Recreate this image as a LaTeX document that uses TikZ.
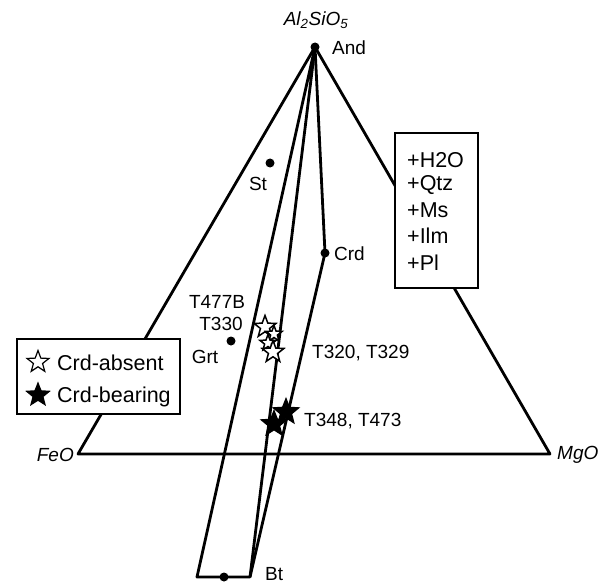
\documentclass[tikz,border=0pt]{standalone}
\usepackage{fontspec}
\setmainfont{Liberation Sans}
\usetikzlibrary{shapes.geometric}
\begin{document}
\begin{tikzpicture}[x=1pt,y=-1pt,
  edge/.style={line width=2.8pt,line join=round},
  dot/.style={circle,fill=black,inner sep=0pt,minimum size=9pt},
  lbl/.style={font=\fontsize{19}{21}\selectfont,inner sep=0pt},
  blbl/.style={font=\fontsize{21.5}{24}\selectfont,inner sep=0pt,anchor=west},
  ilbl/.style={font=\fontsize{19}{21}\selectfont\itshape,inner sep=0pt},
  ostar/.style={star,star points=5,star point ratio=2.4,draw=black,fill=white,line width=1.5pt,minimum size=23pt,inner sep=0pt},
  fstar/.style={star,star points=5,star point ratio=2.3,draw=black,fill=black,line width=1.5pt,minimum size=26pt,inner sep=0pt},
  box/.style={draw=black,fill=white,line width=2.4pt}]
\useasboundingbox (0,0) rectangle (613,583);
% corners
\coordinate (And) at (315,47);
\coordinate (FeO) at (78,454);
\coordinate (MgO) at (550,454);
\coordinate (BtL) at (197,577);
\coordinate (BtR) at (250,577);
% triangle
\draw[edge] (FeO) -- (MgO) -- (And) -- cycle;
% wedge
\node[dot] (Crd) at (325,253) {};
\draw[edge] (And) -- (BtL) -- (BtR) -- (And);
\draw[edge] (And) -- (Crd.center) -- (BtR);
% dots
\node[dot] (AndDot) at (And) {};
\node[dot] (St) at (270,163) {};
\node[dot] (Grt) at (231,341) {};
\node[dot] (Bt) at (224,577) {};
% labels
\node[ilbl] (AlSi) at (316,20) {Al\textsubscript{2}SiO\textsubscript{5}};
\node[lbl,anchor=west] (AndL) at (332,48) {And};
\node[lbl] (StL) at (258,184) {St};
\node[lbl,anchor=west] (CrdL) at (334,254) {Crd};
\node[lbl] (GrtL) at (205,357) {Grt};
\node[lbl] (T477) at (217,302) {T477B};
\node[lbl] (T330) at (221,324) {T330};
\node[lbl,anchor=west] (T320) at (312,353) {T320, T329};
\node[lbl,anchor=west] (T348) at (304,421) {T348, T473};
\node[lbl,anchor=west] (BtLbl) at (265,574) {Bt};
\node[ilbl,anchor=east] (FeOL) at (74,455) {FeO};
\node[ilbl,anchor=west] (MgOL) at (557,455) {MgO};
% data stars
\node[ostar] (s1) at (265,327) {};
\node[ostar,minimum size=17pt] (s2) at (274,334) {};
\node[ostar,minimum size=17pt] (s3) at (268,343) {};
\node[ostar] (s4) at (273,352) {};
\node[fstar] (f1) at (286,412) {};
\node[fstar] (f2) at (274,424) {};
% mineral box
\draw[box] (395,133) rectangle (478,288);
\node[blbl] (h2o) at (407,160) {+H2O};
\node[blbl] (qtz) at (407,185) {+Qtz};
\node[blbl] (ms) at (407,210) {+Ms};
\node[blbl] (ilm) at (407,236) {+Ilm};
\node[blbl] (pl) at (407,263) {+Pl};
% legend
\draw[box] (17,339) rectangle (180,414);
\node[ostar,line width=1.2pt,minimum size=23pt] (ls1) at (38,362) {};
\node[fstar,minimum size=23pt] (ls2) at (38,395) {};
\node[blbl] (la) at (57,363) {Crd-absent};
\node[blbl] (lb) at (57,397) {Crd-bearing};
\end{tikzpicture}
\end{document}
